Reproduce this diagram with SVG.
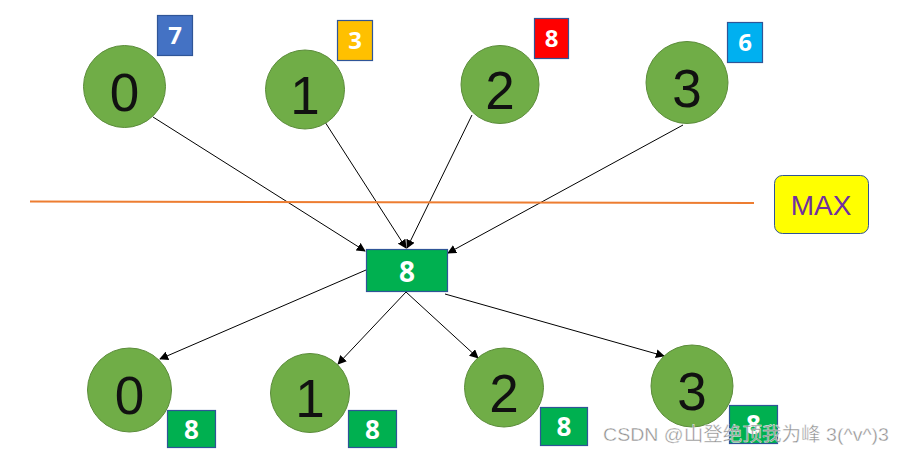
<svg xmlns="http://www.w3.org/2000/svg" width="904" height="453" viewBox="0 0 904 453">
<style>
.c{fill:#70AD47;stroke:#5B8C3A;stroke-width:1}
.d{font-family:"Liberation Sans",Arial,sans-serif;font-size:53px;fill:#111;text-anchor:middle}
.b{stroke:#2F5597;stroke-width:1.2}
.bt{font-family:"Open Sans","Liberation Sans",sans-serif;font-weight:bold;fill:#fff;text-anchor:middle}
.e{stroke:#000;stroke-width:1;fill:none;marker-end:url(#a)}
</style>
<defs>
<marker id="a" viewBox="0 0 10 10" refX="9" refY="5" markerWidth="9" markerHeight="9" markerUnits="userSpaceOnUse" orient="auto">
<path d="M0,0 L10,5 L0,10 z" fill="#000"/>
</marker>
</defs>
<rect width="904" height="453" fill="#fff"/>
<g id="connectors">
<line class="e" x1="153" y1="117" x2="365" y2="251"/>
<line class="e" x1="325" y1="122" x2="406" y2="248"/>
<line class="e" x1="472" y1="115" x2="407" y2="248"/>
<line class="e" x1="683" y1="125" x2="448" y2="253"/>
<line class="e" x1="366" y1="270" x2="160" y2="359"/>
<line class="e" x1="406" y1="292" x2="338" y2="364"/>
<line class="e" x1="406" y1="292" x2="478" y2="358"/>
<line class="e" x1="445" y1="294" x2="664" y2="356"/>
</g>
<g id="max-line"><line x1="30" y1="201.5" x2="754" y2="203" stroke="#ED7D31" stroke-width="2"/></g>
<g id="max"><rect x="774.5" y="175.5" width="94" height="58" rx="8" fill="#FFFF00" stroke="#2F5597" stroke-width="1"/><text x="821" y="215" font-family="Liberation Sans,Arial,sans-serif" font-size="28" fill="#7030A0" text-anchor="middle">MAX</text></g>
<g id="top0"><circle class="c" cx="124.5" cy="86.5" r="41"/><text class="d" x="124.5" y="111">0</text></g>
<g id="top0-val"><rect class="b" x="157.5" y="15.5" width="35" height="40" fill="#4472C4"/><text class="bt" x="175" y="44" font-size="24">7</text></g>
<g id="top1"><circle class="c" cx="305" cy="89.5" r="39.5"/><text class="d" x="305" y="114">1</text></g>
<g id="top1-val"><rect class="b" x="337.5" y="20.5" width="35" height="40" fill="#FFC000"/><text class="bt" x="355" y="49" font-size="24">3</text></g>
<g id="top2"><circle class="c" cx="500" cy="84.5" r="39"/><text class="d" x="500" y="109">2</text></g>
<g id="top2-val"><rect class="b" x="534.5" y="18.5" width="34" height="40" fill="#FF0000"/><text class="bt" x="551.5" y="47" font-size="24">8</text></g>
<g id="top3"><circle class="c" cx="687" cy="82.5" r="41"/><text class="d" x="687" y="107">3</text></g>
<g id="top3-val"><rect class="b" x="727.5" y="22.5" width="35" height="40" fill="#00B0F0"/><text class="bt" x="745" y="51" font-size="24">6</text></g>
<g id="mid"><rect class="b" x="366.5" y="249.5" width="81" height="42" fill="#00B050"/><text class="bt" x="407" y="282" font-size="28">8</text></g>
<g id="bot0"><circle class="c" cx="129.5" cy="390" r="42"/><text class="d" x="129.5" y="414">0</text></g>
<g id="bot0-val"><rect class="b" x="167.5" y="410.5" width="48" height="37" fill="#00B050"/><text class="bt" x="191.5" y="439" font-size="26">8</text></g>
<g id="bot1"><circle class="c" cx="310" cy="393" r="39.5"/><text class="d" x="310" y="417">1</text></g>
<g id="bot1-val"><rect class="b" x="348.5" y="410.5" width="48" height="37" fill="#00B050"/><text class="bt" x="372.5" y="439" font-size="26">8</text></g>
<g id="bot2"><circle class="c" cx="504" cy="387.5" r="39.5"/><text class="d" x="504" y="412">2</text></g>
<g id="bot2-val"><rect class="b" x="540.5" y="407.5" width="47" height="38" fill="#00B050"/><text class="bt" x="564" y="436" font-size="26">8</text></g>
<g id="bot3"><circle class="c" cx="692" cy="386" r="41"/><text class="d" x="692" y="410">3</text></g>
<g id="bot3-val"><rect class="b" x="729.5" y="405.5" width="48" height="38" fill="#00B050"/><text class="bt" x="753.5" y="434" font-size="26">8</text></g>
<text x="603" y="441" textLength="286" lengthAdjust="spacingAndGlyphs" font-family="Liberation Sans,'Noto Sans CJK SC',sans-serif" font-size="19" fill="#8a8a8a" stroke="#fff" stroke-width="0.4" opacity="0.95">CSDN @山登绝顶我为峰 3(^v^)3</text>
</svg>
